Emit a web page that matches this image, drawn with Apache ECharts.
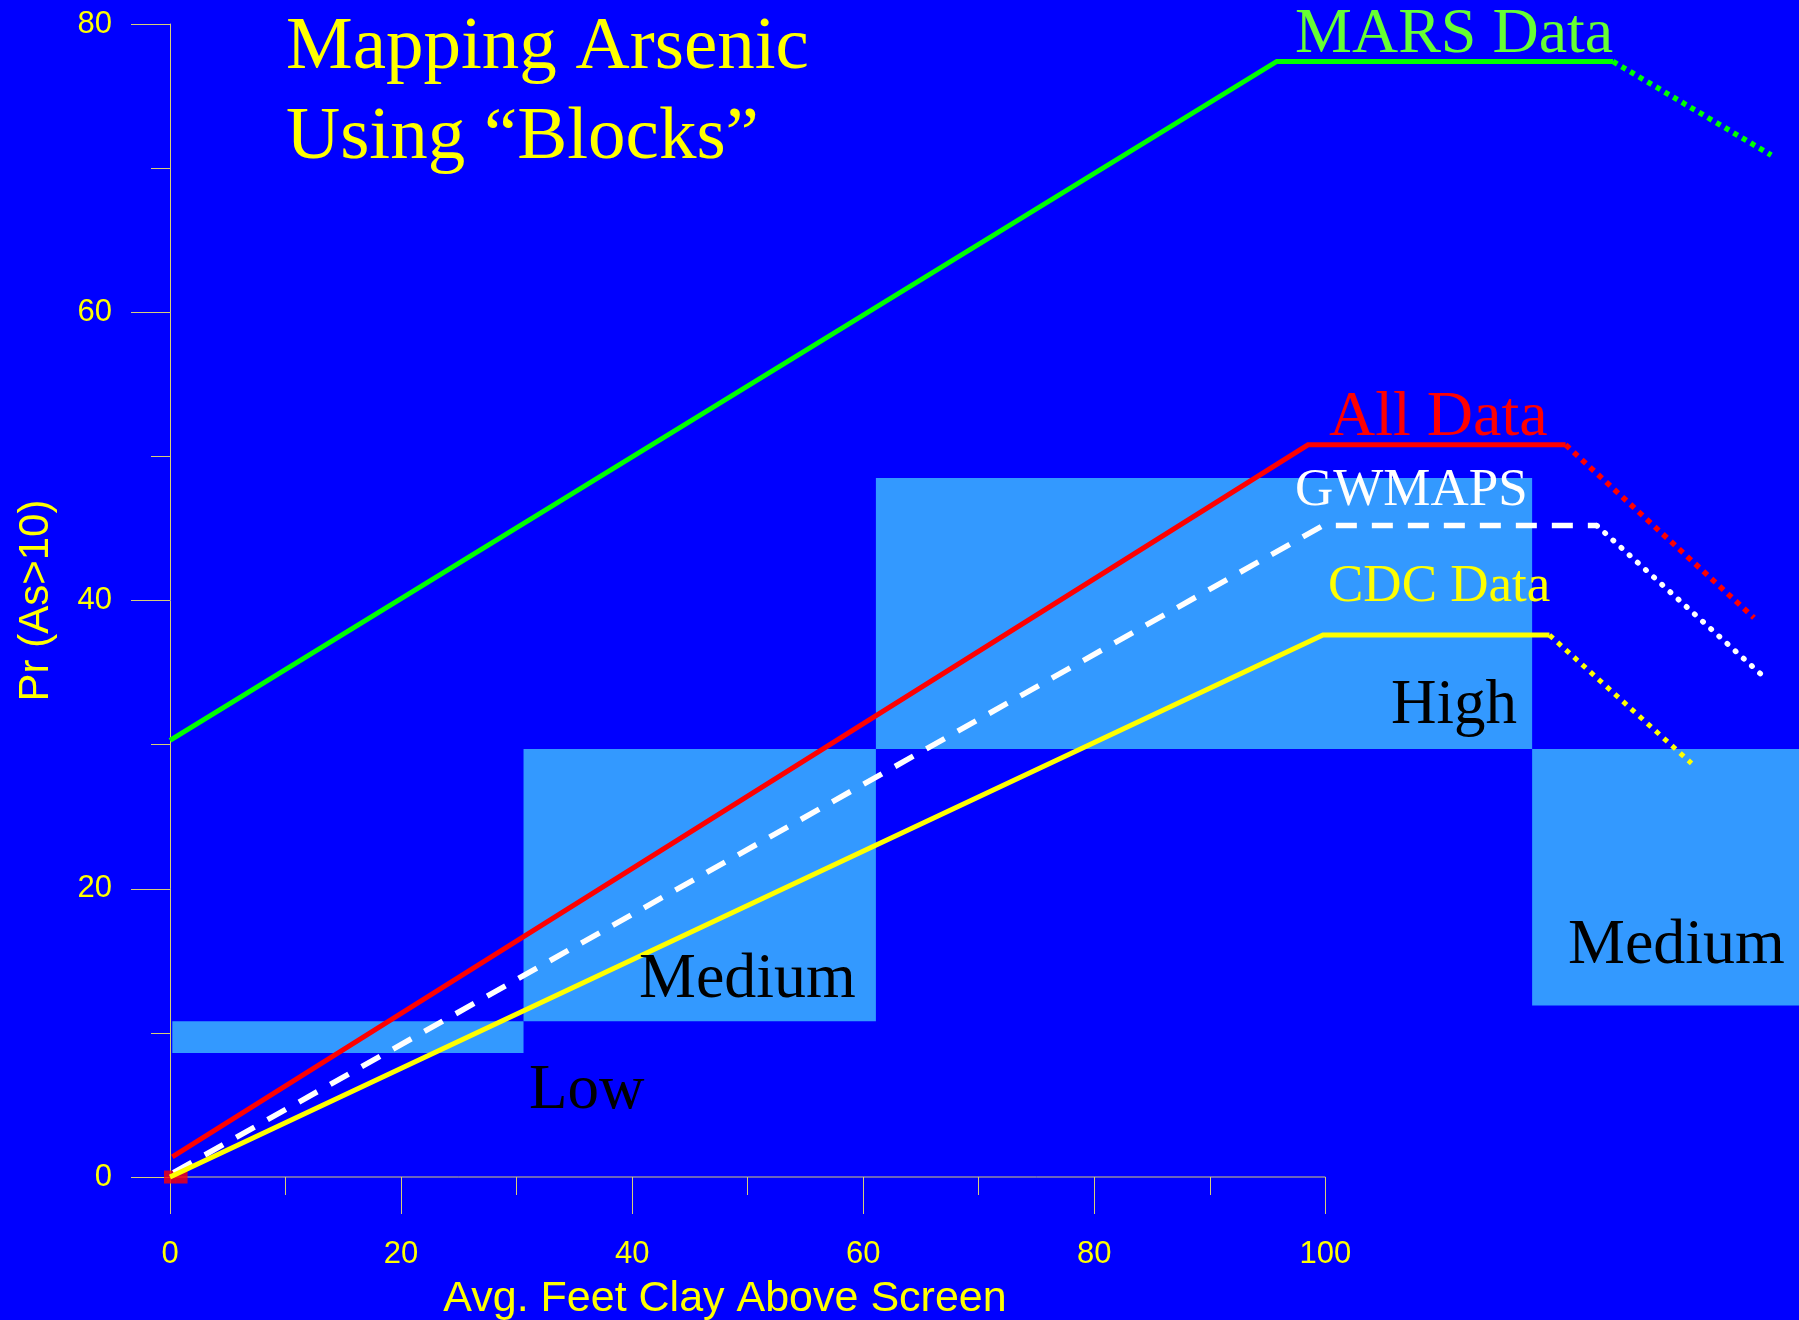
<!DOCTYPE html>
<html>
<head>
<meta charset="utf-8">
<script src="https://cdn.jsdelivr.net/npm/echarts@6/dist/echarts.min.js"></script>
<style>
  html, body { margin: 0; padding: 0; background: #0000ff; }
  #chart { width: 1799px; height: 1320px; }
</style>
</head>
<body>
<div id="chart"></div>
<script>
// Axis ticks
const xMajorTicks = [0, 20, 40, 60, 80, 100];
const xMinorTicks = [10, 30, 50, 70, 90];
const yTickStep = 20;
const yMax = 80;
const xMax = 141;

// Risk blocks: [xStart, xEnd, yLow, yHigh]
const blockLow = [0.2, 30.6, 8.6, 10.8];
const blockMedium = [30.6, 61.1, 10.8, 29.7];
const blockHigh = [61.1, 117.9, 29.7, 48.5];
const blockMediumDeep = [117.9, 141, 11.9, 29.7];

// Fitted curves (solid / dashed part) and their extrapolations (dotted part)
const marsFit = [[0, 30.3], [95.8, 77.4], [124.9, 77.4]];
const marsExtrap = [[124.9, 77.4], [138.6, 70.9]];
const allFit = [[0.2, 1.4], [98.5, 50.8], [120.8, 50.8]];
const allExtrap = [[120.8, 50.8], [137.1, 38.8]];
const gwFit = [[0.3, 0.3], [99.8, 45.2], [123.5, 45.2]];
const gwExtrap = [[123.5, 45.2], [138.1, 34.6]];
const cdcFit = [[0, 0], [99.8, 37.6], [119.4, 37.6]];
const cdcExtrap = [[119.4, 37.6], [131.7, 28.7]];
const originMarks = [[0, 0], [1, 0]];

const YELLOW = '#ffff00';
const AXIS = '#d6ce78';
const SANS = 'Liberation Sans, Arial, sans-serif';
const SERIF = 'Liberation Serif, Times New Roman, serif';

const chart = echarts.init(document.getElementById('chart'), null, { renderer: 'canvas' });

function lineSeries(name, data, color, width, type, cap, z) {
  return {
    name, type: 'line', data, z,
    symbol: 'none', silent: true, clip: false,
    lineStyle: { color, width, type, cap: cap || 'butt', join: 'miter' }
  };
}

// Serif annotation placed by its left edge and text baseline
function label(text, x, baseline, size, color) {
  return {
    type: 'text', x, y: baseline - 0.26 * size, z: 100, silent: true,
    style: { text, fill: color, fontSize: size, fontFamily: SERIF, align: 'left', verticalAlign: 'middle' }
  };
}

const option = {
  backgroundColor: '#0000ff',
  animation: false,
  title: {
    text: 'Mapping Arsenic\nUsing “Blocks”',
    left: 286, top: 3, padding: 0,
    textStyle: { color: YELLOW, fontFamily: SERIF, fontSize: 75, fontWeight: 'normal', lineHeight: 90 }
  },
  grid: { left: 170, right: 0, top: 24, bottom: 143, containLabel: false },
  xAxis: [{
    type: 'value', min: 0, max: xMax, position: 'bottom',
    axisLine: { show: false },
    splitLine: { show: false },
    axisTick: { show: true, customValues: xMajorTicks, length: 37, lineStyle: { color: AXIS, width: 1 } },
    axisLabel: { customValues: xMajorTicks, margin: 62, color: YELLOW, fontSize: 31, fontFamily: SANS }
  }, {
    type: 'value', min: 0, max: xMax, position: 'bottom',
    axisLine: { show: false },
    splitLine: { show: false },
    axisTick: { show: true, customValues: xMinorTicks, length: 18, lineStyle: { color: AXIS, width: 1 } },
    axisLabel: { show: false }
  }],
  yAxis: {
    type: 'value', min: 0, max: yMax, interval: yTickStep,
    name: 'Pr (As>10)', nameLocation: 'middle', nameGap: 113,
    nameTextStyle: { color: YELLOW, fontSize: 42, fontFamily: SANS },
    axisLine: { show: true, lineStyle: { color: AXIS, width: 1 } },
    splitLine: { show: false },
    axisTick: { show: true, length: 39, lineStyle: { color: AXIS, width: 1 } },
    minorTick: { show: true, splitNumber: 2, length: 19, lineStyle: { color: AXIS, width: 1 } },
    axisLabel: { margin: 58, color: YELLOW, fontSize: 31, fontFamily: SANS }
  },
  series: [
    {
      name: 'blocks', type: 'custom', z: 1, silent: true,
      data: [blockLow, blockMedium, blockHigh, blockMediumDeep],
      encode: { x: [0, 1], y: [2, 3] },
      renderItem(params, api) {
        const a = api.coord([api.value(0), api.value(3)]);
        const b = api.coord([api.value(1), api.value(2)]);
        return {
          type: 'rect',
          shape: { x: a[0], y: a[1], width: b[0] - a[0], height: b[1] - a[1] },
          style: { fill: '#3399ff' }
        };
      }
    },
    // x axis baseline, drawn only across the measured range
    lineSeries('xBaseline', [[xMajorTicks[0], 0], [xMajorTicks[xMajorTicks.length - 1], 0]], AXIS, 1, 'solid', 'butt', 2),
    {
      name: 'origin', type: 'scatter', data: originMarks, z: 3, silent: true,
      symbol: 'rect', symbolSize: [12, 13], itemStyle: { color: '#ff0000' }
    },
    lineSeries('All Data', allFit, '#ff0000', 5, 'solid', 'butt', 4),
    lineSeries('All Data extrapolated', allExtrap, '#ff0000', 5.5, [5.5, 5.5], 'butt', 4),
    lineSeries('GWMAPS', gwFit, '#ffffff', 5.5, [21, 15], 'butt', 5),
    lineSeries('GWMAPS extrapolated', gwExtrap, '#ffffff', 5.5, [0.5, 10.5], 'round', 5),
    lineSeries('CDC Data', cdcFit, '#ffff00', 5, 'solid', 'butt', 6),
    lineSeries('CDC Data extrapolated', cdcExtrap, '#ffff00', 5, [5, 6], 'butt', 6),
    lineSeries('MARS Data', marsFit, '#00ff00', 5, 'solid', 'butt', 7),
    lineSeries('MARS Data extrapolated', marsExtrap, '#00ff00', 5.5, [5, 5], 'butt', 7)
  ],
  graphic: [
    {
      type: 'text', x: 725, y: 1312 - 0.31 * 43, silent: true,
      style: { text: 'Avg. Feet Clay Above Screen', fill: YELLOW, fontSize: 43, fontFamily: SANS, align: 'center', verticalAlign: 'middle' }
    },
    label('MARS Data', 1295, 52, 64, '#66ff33'),
    label('All Data', 1329, 435, 64, '#ff0000'),
    label('GWMAPS', 1295, 505, 53, '#ffffff'),
    label('CDC Data', 1328, 601, 53, '#ffff00'),
    label('High', 1391, 723, 63, '#000000'),
    label('Medium', 639, 997, 64, '#000000'),
    label('Medium', 1568, 963, 64, '#000000'),
    label('Low', 529, 1108, 63, '#000000')
  ]
};

chart.setOption(option);
</script>
</body>
</html>
